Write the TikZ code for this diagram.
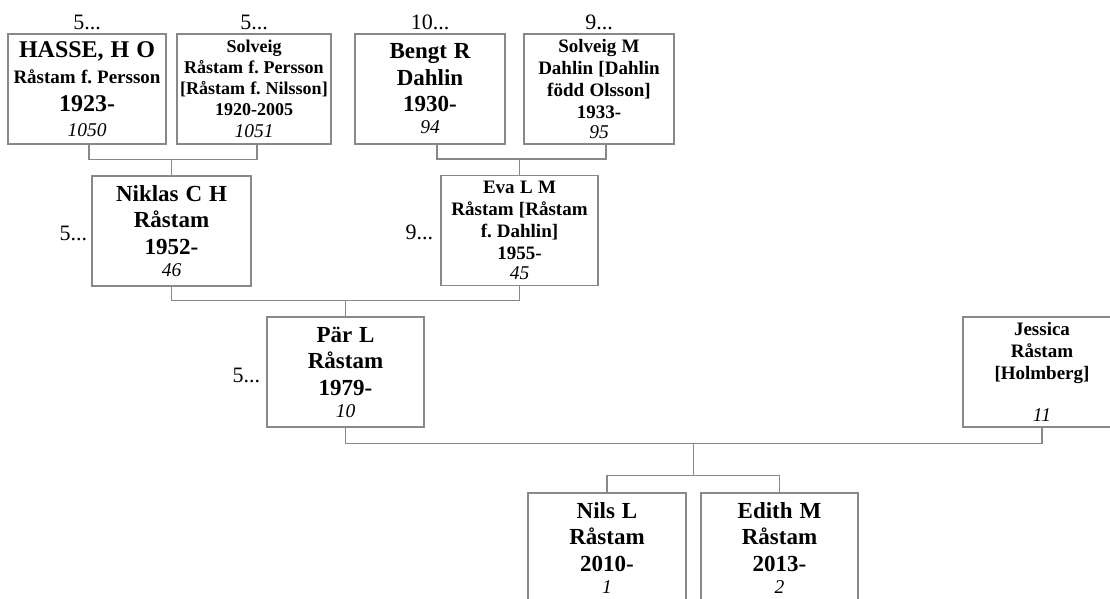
\documentclass[tikz,border=0pt]{standalone}
\usepackage{fontspec}
\setmainfont{Liberation Serif}
\usetikzlibrary{calc,positioning}
\definecolor{boxline}{RGB}{136,136,136}

% Line types inside a person box (optional argument: line pitch)
\newcommand\bigname[2][26.5]{{\fontsize{23}{#1}\selectfont\bfseries\spaceskip=0.3em\relax #2\par}}
\newcommand\smallname[2][21.8]{{\fontsize{19}{#1}\selectfont\bfseries\spaceskip=0.28em\relax #2\par}}
\newcommand\tightname[2][20.9]{{\fontsize{18}{#1}\selectfont\bfseries\spaceskip=0.28em\relax #2\par}}
\newcommand\idno[2][22]{{\fontsize{19.5}{#1}\selectfont\itshape #2\par}}

\begin{document}
\begin{tikzpicture}[x=1pt, y=-1pt,
    person/.style={draw=boxline, line width=1.3pt, fill=white, text width=150pt,
        minimum width=#1, minimum height=110pt, inner sep=0pt, align=center},
    person/.default=157pt,
    link/.style={draw=boxline, line width=1.3pt},
    more/.style={font=\fontsize{22}{24}\selectfont, inner sep=3pt}
]

% Canvas
\useasboundingbox (0,0) rectangle (1110,599);
\fill[white] (0,0) rectangle (1110,599);
\clip (0,0) rectangle (1110,599);

% Grandparents
\node[person=158pt] (hasse) at (87,89) {{\fontsize{24}{27}\selectfont\bfseries\spaceskip=0.29em\relax HASSE, H O\par}\smallname[26]{Råstam f. Persson}{\fontsize{24}{28}\selectfont\bfseries 1923-\par}\idno[25]{1050}};
\node[person=154pt] (solveig) at (254,89) {\tightname{Solveig}\tightname{Råstam f. Persson}\tightname{[Råstam f. Nilsson]}\tightname{1920-2005}\idno{1051}};
\node[person=150pt] (bengt) at (430,89) {\bigname{Bengt R}\bigname{Dahlin}\bigname{1930-}\idno{94}};
\node[person=148pt] (solveigm) at (599,89) {\smallname{Solveig M}\smallname{Dahlin [Dahlin}\smallname{född Olsson]}\smallname{1933-}\idno[20]{95}};

% Parents
\node[person=159pt] (niklas) at (171.5,231) {\bigname{Niklas C H}\bigname{Råstam}\bigname{1952-}\idno{46}};
\node[person] (eva) at (519.5,230.5) {\smallname{Eva L M}\smallname{Råstam [Råstam}\smallname{f. Dahlin]}\smallname{1955-}\idno[20]{45}};

% Couple
\node[person] (par) at (345.5,372) {\bigname{Pär L}\bigname{Råstam}\bigname{1979-}\idno{10}};
\node[person=158pt] (jessica) at (1042,372) {\smallname{Jessica}\smallname{Råstam}\smallname{[Holmberg]}\smallname{\mbox{}}\idno[20]{11}};

% Children
\node[person=158pt] (nils) at (607,548) {\bigname{Nils L}\bigname{Råstam}\bigname{2010-}\idno{1}};
\node[person] (edith) at (779.5,548) {\bigname{Edith M}\bigname{Råstam}\bigname{2013-}\idno{2}};

% Continuation marks
\node[more, above=0pt of hasse] (hasse-up) {5...};
\node[more, above=0pt of solveig] (solveig-up) {5...};
\node[more, above=0pt of bengt] (bengt-up) {10...};
\node[more, above=0pt of solveigm] (solveigm-up) {9...};
\node[more, left=1pt of niklas, yshift=-2pt] (niklas-left) {5...};
\node[more, left=4pt of eva, yshift=-2pt] (eva-left) {9...};
\node[more, left=3pt of par, yshift=-3pt] (par-left) {5...};

% Junctions
\coordinate (jA) at ($(niklas.north)+(0pt,16pt)$);
\coordinate (jB) at ($(eva.north)+(0pt,16pt)$);
\coordinate (jC) at ($(par.north)+(0pt,16pt)$);
\coordinate (jD) at ($(par.south)!0.5!(jessica.south)+(0pt,-16pt)$);
\coordinate (jE) at ($(nils.north)!0.5!(edith.north)+(0pt,17pt)$);

% Connectors
\draw[link] ($(hasse.south)+(2pt,0pt)$) |- (jA) -| ($(solveig.south)+(3pt,0pt)$);
\draw[link] (jA) -- (niklas.north);
\draw[link] ($(bengt.south)+(7pt,0pt)$) |- (jB) -| ($(solveigm.south)+(7pt,0pt)$);
\draw[link] (jB) -- (eva.north);
\draw[link] (niklas.south) |- (jC) -| (eva.south);
\draw[link] (jC) -- (par.north);
\draw[link] (par.south) |- (jD) -| (jessica.south);
\draw[link] (jD) -- (jD |- jE);
\draw[link] (nils.north) |- (jE) -| (edith.north);

\end{tikzpicture}
\end{document}
